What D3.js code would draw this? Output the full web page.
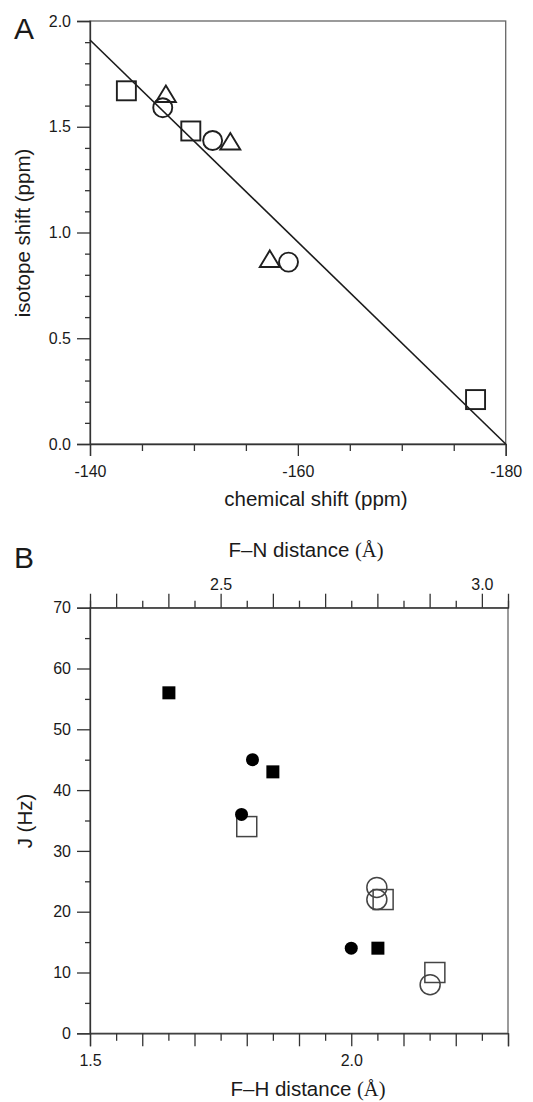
<!DOCTYPE html>
<html>
<head>
<meta charset="utf-8">
<script src="https://cdn.jsdelivr.net/npm/d3@7"></script>
<style>
body { margin: 0; background: #fff; }
svg { display: block; }
text { font-family: Helvetica, Arial, "Liberation Sans", sans-serif; fill: #1a1a1a; }
</style>
</head>
<body>
<svg></svg>
<script>
let width = 533, height = 1102

let svg = d3.select("svg").attr("width", width).attr("height", height)

// ---- panel A data: chemical shift (ppm) vs isotope shift (ppm)
let squaresA = [[-143.5, 1.67], [-149.7, 1.48], [-177.1, 0.21]]
let circlesA = [[-147.0, 1.59], [-151.8, 1.435], [-159.1, 0.86]]
let trianglesA = [[-147.3, 1.655], [-153.5, 1.43], [-157.3, 0.875]]
let fitLineA = [[-140, 1.91], [-180, 0.0]]

let aXTicks = [-140, -145, -150, -155, -160, -165, -170, -175, -180]
let aXLabels = [-140, -160, -180]
let aYTicks = [0, 0.1, 0.2, 0.3, 0.4, 0.5, 0.6, 0.7, 0.8, 0.9, 1.0, 1.1, 1.2, 1.3, 1.4, 1.5, 1.6, 1.7, 1.8, 1.9, 2.0]
let aYLabels = [0, 0.5, 1.0, 1.5, 2.0]

// ---- panel B data: F-H distance (A) vs J (Hz)
let filledSquaresB = [[1.651, 56], [1.850, 43], [2.051, 14]]
let filledCirclesB = [[1.811, 45], [1.790, 36], [2.000, 14]]
let openSquaresB = [[1.800, 34], [2.061, 22], [2.160, 10]]
let openCirclesB = [[2.049, 24], [2.049, 22], [2.151, 8]]

let bXTicks = [1.5, 1.55, 1.6, 1.65, 1.7, 1.75, 1.8, 1.85, 1.9, 1.95, 2.0, 2.05, 2.1, 2.15, 2.2, 2.25, 2.3]
let bXLabels = [1.5, 2.0]
let bTopTicks = [2.25, 2.3, 2.35, 2.4, 2.45, 2.5, 2.55, 2.6, 2.65, 2.7, 2.75, 2.8, 2.85, 2.9, 2.95, 3.0, 3.05]
let bTopLabels = [2.5, 3.0]
let bYTicks = [0, 5, 10, 15, 20, 25, 30, 35, 40, 45, 50, 55, 60, 65, 70]
let bYLabels = [0, 10, 20, 30, 40, 50, 60, 70]

const axisColor = "#333"
const isTenth = d => Math.abs(d * 10 - Math.round(d * 10)) < 1e-6
const inList = (list, d) => list.some(v => Math.abs(v - d) < 1e-6)

const styleAxis = (g) => {
    g.attr("font-family", null).attr("font-size", null)
    g.select(".domain").attr("stroke", axisColor).attr("stroke-width", 1.3)
    g.selectAll(".tick line").attr("stroke", axisColor).attr("stroke-width", 1.3)
    g.selectAll(".tick text").attr("font-size", 16).style("fill", "#1a1a1a")
}

// ================= Panel A =================
let xA = d3.scaleLinear().domain([-140, -180]).range([90, 505.7])
let yA = d3.scaleLinear().domain([0, 2]).range([444, 21])

svg.append("rect")
    .attr("x", xA.range()[0]).attr("y", yA.range()[1])
    .attr("width", xA.range()[1] - xA.range()[0])
    .attr("height", yA.range()[0] - yA.range()[1])
    .attr("fill", "none").attr("stroke", "#666").attr("stroke-width", 1.3)

let gAx = svg.append("g").attr("transform", `translate(0,${yA(0)})`)
    .call(d3.axisBottom(xA).tickValues(aXTicks).tickSizeOuter(0).tickSize(12)
        .tickFormat(d => inList(aXLabels, d) ? d : ""))
styleAxis(gAx)
gAx.selectAll(".tick line").attr("y2", d => inList(aXLabels, d) ? 12 : 7)
gAx.selectAll(".tick text").attr("y", 22)

let gAy = svg.append("g").attr("transform", `translate(${xA(-140)},0)`)
    .call(d3.axisLeft(yA).tickValues(aYTicks).tickSizeOuter(0).tickSize(13)
        .tickFormat(d => inList(aYLabels, d) ? d3.format(".1f")(d) : ""))
styleAxis(gAy)
gAy.selectAll(".tick line").attr("x2", d => inList(aYLabels, d) ? -13 : -5)
gAy.selectAll(".tick text").attr("x", -19)

svg.append("line")
    .attr("x1", xA(fitLineA[0][0])).attr("y1", yA(fitLineA[0][1]))
    .attr("x2", xA(fitLineA[1][0])).attr("y2", yA(fitLineA[1][1]))
    .attr("stroke", "#1a1a1a").attr("stroke-width", 1.6)

let markA = svg.append("g").attr("fill", "none").attr("stroke", "#1f1f1f").attr("stroke-width", 1.9)

markA.selectAll(".sqA").data(squaresA).enter().append("rect")
    .attr("x", d => xA(d[0]) - 9.5).attr("y", d => yA(d[1]) - 9.5)
    .attr("width", 19).attr("height", 19)

markA.selectAll(".ciA").data(circlesA).enter().append("circle")
    .attr("cx", d => xA(d[0])).attr("cy", d => yA(d[1])).attr("r", 9.5)

markA.selectAll(".trA").data(trianglesA).enter().append("path")
    .attr("transform", d => `translate(${xA(d[0])},${yA(d[1])})`)
    .attr("d", "M0,-8.5L10,8L-10,8Z")

svg.append("text").attr("x", 14).attr("y", 39).attr("font-size", 30).text("A")

svg.append("text").attr("x", 316).attr("y", 506).attr("text-anchor", "middle")
    .attr("font-size", 20.5).text("chemical shift (ppm)")

svg.append("text").attr("transform", `translate(30,233) rotate(-90)`)
    .attr("text-anchor", "middle").attr("font-size", 20.5).text("isotope shift (ppm)")

// ================= Panel B =================
let xB = d3.scaleLinear().domain([1.5, 2.3]).range([90, 508])
let xTop = d3.scaleLinear().domain([2.25, 3.05]).range([90, 508])
let yB = d3.scaleLinear().domain([0, 70]).range([1033.3, 607.7])

svg.append("rect")
    .attr("x", xB.range()[0]).attr("y", yB.range()[1])
    .attr("width", xB.range()[1] - xB.range()[0])
    .attr("height", yB.range()[0] - yB.range()[1])
    .attr("fill", "none").attr("stroke", "#666").attr("stroke-width", 1.3)

let gBx = svg.append("g").attr("transform", `translate(0,${yB(0)})`)
    .call(d3.axisBottom(xB).tickValues(bXTicks).tickSizeOuter(0).tickSize(13)
        .tickFormat(d => inList(bXLabels, d) ? d3.format(".1f")(d) : ""))
styleAxis(gBx)
gBx.selectAll(".tick line").attr("y2", d => isTenth(d) ? 13 : 7.5)
gBx.selectAll(".tick text").attr("y", 21)

let gBt = svg.append("g").attr("transform", `translate(0,${yB(70)})`)
    .call(d3.axisTop(xTop).tickValues(bTopTicks).tickSizeOuter(0).tickSize(14)
        .tickFormat(d => inList(bTopLabels, d) ? d3.format(".1f")(d) : ""))
styleAxis(gBt)
gBt.selectAll(".tick line").attr("y2", d => isTenth(d) ? -14 : -7)
gBt.selectAll(".tick text").attr("y", -18)

let gBy = svg.append("g").attr("transform", `translate(${xB(1.5)},0)`)
    .call(d3.axisLeft(yB).tickValues(bYTicks).tickSizeOuter(0).tickSize(13)
        .tickFormat(d => inList(bYLabels, d) ? d : ""))
styleAxis(gBy)
gBy.selectAll(".tick line").attr("x2", d => inList(bYLabels, d) ? -13 : -5)
gBy.selectAll(".tick text").attr("x", -19)

let markB = svg.append("g")

markB.selectAll(".osB").data(openSquaresB).enter().append("rect")
    .attr("x", d => xB(d[0]) - 10).attr("y", d => yB(d[1]) - 10)
    .attr("width", 20).attr("height", 20)
    .attr("fill", "none").attr("stroke", "#444").attr("stroke-width", 1.5)

markB.selectAll(".ocB").data(openCirclesB).enter().append("circle")
    .attr("cx", d => xB(d[0])).attr("cy", d => yB(d[1])).attr("r", 10)
    .attr("fill", "none").attr("stroke", "#444").attr("stroke-width", 1.5)

markB.selectAll(".fsB").data(filledSquaresB).enter().append("rect")
    .attr("x", d => xB(d[0]) - 6.5).attr("y", d => yB(d[1]) - 6.5)
    .attr("width", 13).attr("height", 13).attr("fill", "#000")

markB.selectAll(".fcB").data(filledCirclesB).enter().append("circle")
    .attr("cx", d => xB(d[0])).attr("cy", d => yB(d[1])).attr("r", 6.5)
    .attr("fill", "#000")

svg.append("text").attr("x", 14).attr("y", 568).attr("font-size", 30).text("B")

const distTitle = (x, y, atom) => {
    let t = svg.append("text").attr("x", x).attr("y", y).attr("text-anchor", "middle").attr("font-size", 20.5)
    t.append("tspan").text(`F\u2013${atom} distance `)
    t.append("tspan").style("font-family", "'Liberation Serif', 'DejaVu Serif', serif").text("(\u00c5)")
}
distTitle(306, 557, "N")
distTitle(308, 1096, "H")

svg.append("text").attr("transform", `translate(32,821) rotate(-90)`)
    .attr("text-anchor", "middle").attr("font-size", 20.5).text("J (Hz)")
</script>
</body>
</html>
